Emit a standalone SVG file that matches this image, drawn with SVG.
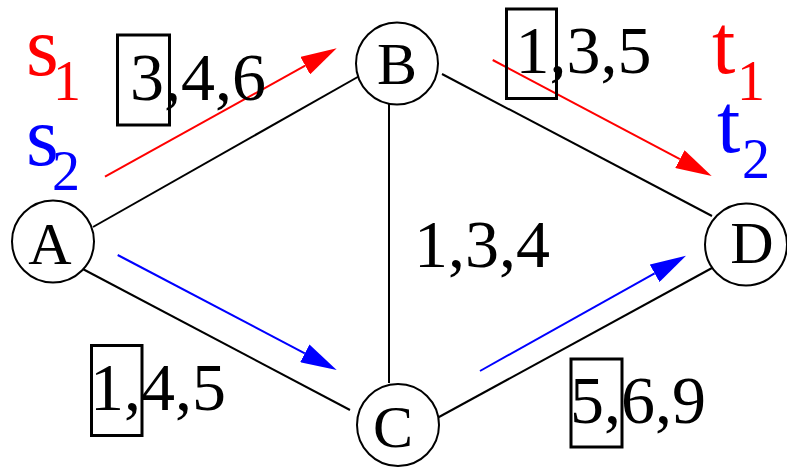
<svg xmlns="http://www.w3.org/2000/svg" width="787" height="468" viewBox="0 0 787 468">
<style>
.node{fill:#fff;stroke:#000;stroke-width:2}
.lbl{font-family:"Liberation Serif","Times New Roman",serif;font-size:60px;fill:#000;text-anchor:middle}
.edge{stroke:#000;stroke-width:2;fill:none}
.red{stroke:#ff0000;stroke-width:2;fill:none;marker-end:url(#ar)}
.blue{stroke:#0000ff;stroke-width:2;fill:none;marker-end:url(#ab)}
.num{font-family:"Liberation Serif","Times New Roman",serif;font-size:68px;fill:#000}
.box{fill:none;stroke:#000;stroke-width:3}
.st{font-family:"Liberation Serif","Times New Roman",serif;font-size:84px}
.sub{font-family:"Liberation Serif","Times New Roman",serif;font-size:56px}
</style>
<defs>
<marker id="ar" markerUnits="userSpaceOnUse" viewBox="0 -10 36 20" refX="0" refY="0" markerWidth="36" markerHeight="20" orient="auto">
<path d="M0,-10 L36,0 L0,10 z" fill="#ff0000"/>
</marker>
<marker id="ab" markerUnits="userSpaceOnUse" viewBox="0 -10 36 20" refX="0" refY="0" markerWidth="36" markerHeight="20" orient="auto">
<path d="M0,-10 L36,0 L0,10 z" fill="#0000ff"/>
</marker>
</defs>
<g id="connectors">
<line class="edge" x1="93" y1="227" x2="363" y2="74"/>
<line class="edge" x1="79" y1="267" x2="350" y2="410"/>
<line class="edge" x1="389" y1="99" x2="389" y2="383"/>
<line class="edge" x1="442" y1="74" x2="712" y2="216"/>
<line class="edge" x1="428" y1="423" x2="712" y2="268"/>
<line class="red" x1="105" y1="176.7" x2="305.2" y2="65.7"/>
<line class="red" x1="492.7" y1="60" x2="679.9" y2="159.1"/>
<line class="blue" x1="117.7" y1="255" x2="304.8" y2="353.3"/>
<line class="blue" x1="480" y1="371" x2="654.6" y2="273.3"/>
</g>
<g id="edge-labels">
<rect class="box" x="117.5" y="35" width="52" height="90"/>
<text class="num" x="130" y="100">3,4,6</text>
<rect class="box" x="506.5" y="9" width="50" height="89.5"/>
<text class="num" x="515.5" y="73">1,3,5</text>
<rect class="box" x="91.5" y="345.5" width="50.5" height="90"/>
<text class="num" x="90" y="410">1,4,5</text>
<rect class="box" x="571" y="359" width="51" height="88"/>
<text class="num" x="570" y="423">5,6,9</text>
<text class="num" x="414" y="267">1,3,4</text>
</g>
<g id="terminals">
<text class="st" x="26" y="75" fill="#ff0000">s</text>
<text class="sub" x="53" y="100" fill="#ff0000">1</text>
<text class="st" x="26" y="165" fill="#0000ff">s</text>
<text class="sub" x="52" y="190" fill="#0000ff">2</text>
<text class="st" x="712" y="73" fill="#ff0000">t</text>
<text class="sub" x="737" y="100" fill="#ff0000">1</text>
<text class="st" x="717" y="152" fill="#0000ff">t</text>
<text class="sub" x="742" y="178" fill="#0000ff">2</text>
</g>
<g id="node-A"><circle class="node" cx="53" cy="241.5" r="41"/><text class="lbl" x="50" y="264">A</text></g>
<g id="node-B"><circle class="node" cx="397" cy="63.5" r="41"/><text class="lbl" x="397" y="84">B</text></g>
<g id="node-C"><circle class="node" cx="398" cy="425" r="41"/><text class="lbl" x="393" y="447">C</text></g>
<g id="node-D"><circle class="node" cx="746" cy="244.5" r="41"/><text class="lbl" x="752" y="263">D</text></g>
</svg>
